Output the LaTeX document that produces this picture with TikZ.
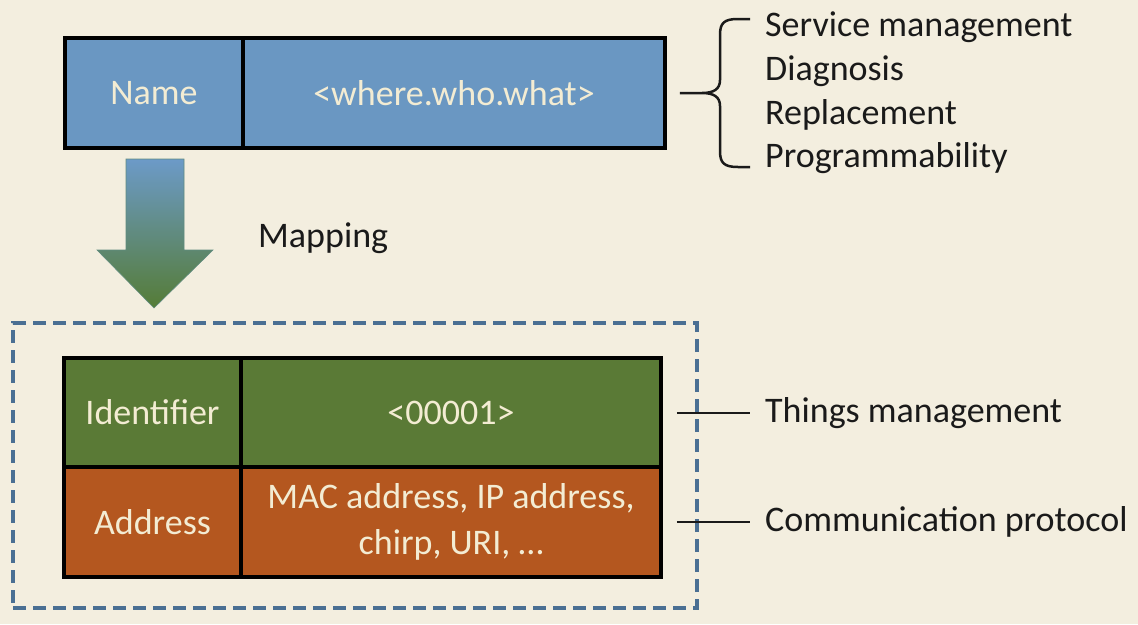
\documentclass[tikz,border=0pt]{standalone}
\usepackage{fontspec}
\setmainfont{Carlito}
\definecolor{bg}{HTML}{F3EEDF}
\definecolor{blueC}{HTML}{6A97C2}
\definecolor{greenC}{HTML}{5A7A36}
\definecolor{orangeC}{HTML}{B4571F}
\definecolor{cream}{HTML}{F3ECD3}
\definecolor{ink}{HTML}{1A1A1A}
\definecolor{dashC}{HTML}{4A6F93}
\definecolor{arrowTop}{HTML}{6C9AC8}
\definecolor{arrowBot}{HTML}{557C36}
\begin{document}
\begin{tikzpicture}[x=1pt,y=-1pt,
  cell/.style={draw=black, line width=3.5pt, text=cream, font=\fontsize{36}{46}\selectfont, inner sep=0pt, align=center},
  lbl/.style={anchor=west, text=ink, font=\fontsize{36}{42}\selectfont, inner sep=0pt},
  link/.style={draw=ink, line width=2pt},
  bracestyle/.style={draw=ink, line width=2.5pt, line join=round}]
\fill[bg] (0,0) rectangle (1138,624);
\useasboundingbox (0,0) rectangle (1138,624);

% group box
\node[draw=dashC, line width=4pt, dash pattern=on 13pt off 7pt, minimum width=684pt, minimum height=285pt, inner sep=0pt] (group) at (355,465.5) {};

% top name box
\node[cell, fill=blueC, minimum width=178pt, minimum height=110pt] (name) at (154,93) {Name};
\node[cell, fill=blueC, minimum width=422pt, minimum height=110pt] (where) at (454,93) {<where.who.what>};

% bottom table
\node[cell, fill=greenC, minimum width=177pt, minimum height=109pt] (ident) at (152.5,412.5) {Identifier};
\node[cell, fill=greenC, minimum width=420pt, minimum height=109pt] (idval) at (451,412.5) {<00001>};
\node[cell, fill=orangeC, minimum width=177pt, minimum height=110pt] (addr) at (152.5,522) {Address};
\node[cell, fill=orangeC, minimum width=420pt, minimum height=110pt] (addrval) at (451,522) {MAC address, IP address,\\chirp, URI, \dots};

% mapping arrow
\shade[top color=arrowTop, bottom color=arrowBot, draw=arrowTop!50!arrowBot, line width=0.6pt]
  (126,159) -- (184,159) -- (184,250) -- (213,250) -- (154,308) -- (97,250) -- (126,250) -- cycle;
\node[lbl] (mapping) at (258,238) {Mapping};

% right labels
\node[lbl] (svc) at (765,27) {Service management};
\node[lbl] (diag) at (765,71) {Diagnosis};
\node[lbl] (repl) at (765,115) {Replacement};
\node[lbl] (prog) at (765,158) {Programmability};
\node[lbl] (things) at (765,413) {Things management};
\node[lbl] (comm) at (765,522) {Communication protocol};

% brace
\coordinate (tip) at ([xshift=13pt]where.east);
\draw[bracestyle] (750,19) -- (738,19) .. controls (724,19) and (720,23) .. (720,35) -- (720,80)
  .. controls (720,89) and (714,93) .. (702,93) -- (tip)
  (tip) -- (702,93) .. controls (714,93) and (720,97) .. (720,106) -- (720,151)
  .. controls (720,163) and (724,167) .. (738,167) -- (750,167);

% tick connectors
\draw[link] ([xshift=14pt]idval.east |- things.west) -- ([xshift=-15pt]things.west);
\draw[link] ([xshift=14pt]addrval.east |- comm.west) -- ([xshift=-15pt]comm.west);
\end{tikzpicture}
\end{document}
